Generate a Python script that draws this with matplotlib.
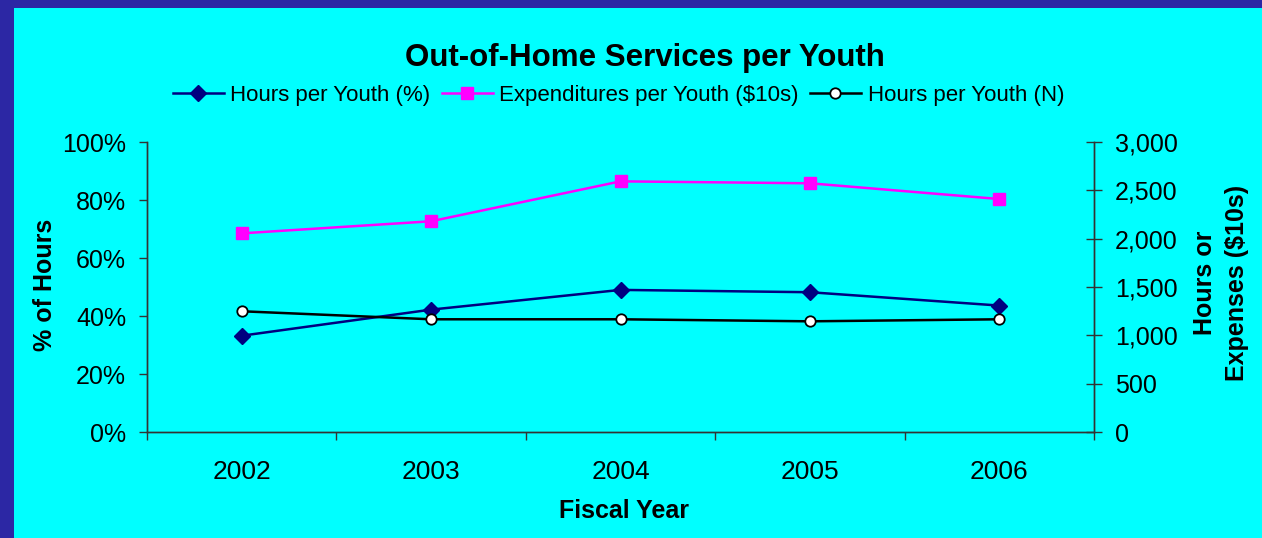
import numpy as np
import matplotlib.pyplot as plt
from matplotlib.patches import Rectangle
from matplotlib.ticker import FuncFormatter, PercentFormatter

years = ["2002", "2003", "2004", "2005", "2006"]
hours_pct = [33.2, 42.2, 49.0, 48.2, 43.6]          # % of hours
expend_10s = [2055, 2180, 2593, 2573, 2410]         # $10s per youth
hours_n = [1249, 1166, 1166, 1145, 1166]            # hours per youth

plt.rcParams["font.family"] = ["Liberation Sans", "DejaVu Sans"]

fig = plt.figure(figsize=(12.62, 5.38), dpi=100)
fig.patch.set_facecolor("#2C27A4")
fig.patches.append(Rectangle((14 / 1262, 0), 1, 1 - 8 / 538, transform=fig.transFigure,
                             facecolor="#00FFFF", edgecolor="none", zorder=-5))

ax = fig.add_axes([147 / 1262, 1 - 432 / 538, (1094 - 147) / 1262, 290 / 538])
ax.set_facecolor("none")
ax2 = ax.twinx()
ax2.set_facecolor("none")

x = np.arange(len(years))
l1, = ax.plot(x, hours_pct, color="#000080", lw=1.8, marker="D", ms=8, zorder=3,
              label="Hours per Youth (%)")
l2, = ax2.plot(x, expend_10s, color="#FF00FF", lw=1.8, marker="s", ms=9,
               label="Expenditures per Youth ($10s)")
l3, = ax2.plot(x, hours_n, color="black", lw=1.8, marker="o", ms=7.5, mfc="white",
               mec="black", mew=1.3, label="Hours per Youth (N)")

ax.set_xlim(-0.5, len(years) - 0.5)
ax.set_ylim(0, 100)
ax2.set_ylim(0, 3000)
ax.set_yticks(np.arange(0, 101, 20))
ax.yaxis.set_major_formatter(PercentFormatter(decimals=0))
ax2.set_yticks(np.arange(0, 3001, 500))
ax2.yaxis.set_major_formatter(FuncFormatter(lambda v, p: f"{int(v):,}"))

ax.set_xticks(np.arange(-0.5, len(years), 1.0))
ax.set_xticklabels([])
ax.set_xticks(x, minor=True)
ax.set_xticklabels(years, minor=True)
ax.tick_params(axis="x", which="major", direction="out", length=6, width=1, color="#333333")
ax.tick_params(axis="x", which="minor", length=0, labelsize=19, pad=20)
ax.tick_params(axis="y", direction="out", length=6, width=1, color="#333333",
               labelsize=18, pad=9)
ax2.tick_params(axis="y", direction="inout", length=12, width=1, color="#333333",
                labelsize=18, pad=9)

for a in (ax, ax2):
    a.spines["top"].set_visible(False)
    for s in ("left", "right", "bottom"):
        a.spines[s].set_color("#333333")
        a.spines[s].set_linewidth(1)

fig.text(0.511, 1 - 58 / 538, "Out-of-Home Services per Youth", ha="center", va="center",
         fontsize=22.5, fontweight="bold")
fig.legend(handles=[l1, l2, l3], loc="center", bbox_to_anchor=(0.49, 1 - 95 / 538),
           ncol=3, frameon=False, fontsize=16, handlelength=2.3, handletextpad=0.3,
           columnspacing=0.5)
fig.text(45 / 1262, 1 - 285 / 538, "% of Hours", rotation=90, ha="center", va="center",
         fontsize=18, fontweight="bold")
fig.text(1205 / 1262, 1 - 283 / 538, "Hours or", rotation=90, ha="center", va="center",
         fontsize=18, fontweight="bold")
fig.text(1237 / 1262, 1 - 283 / 538, "Expenses ($10s)", rotation=90, ha="center",
         va="center", fontsize=18, fontweight="bold")
fig.text(624 / 1262, 1 - 511 / 538, "Fiscal Year", ha="center", va="center",
         fontsize=18, fontweight="bold")

fig.savefig("out.png", dpi=100, facecolor=fig.get_facecolor())
